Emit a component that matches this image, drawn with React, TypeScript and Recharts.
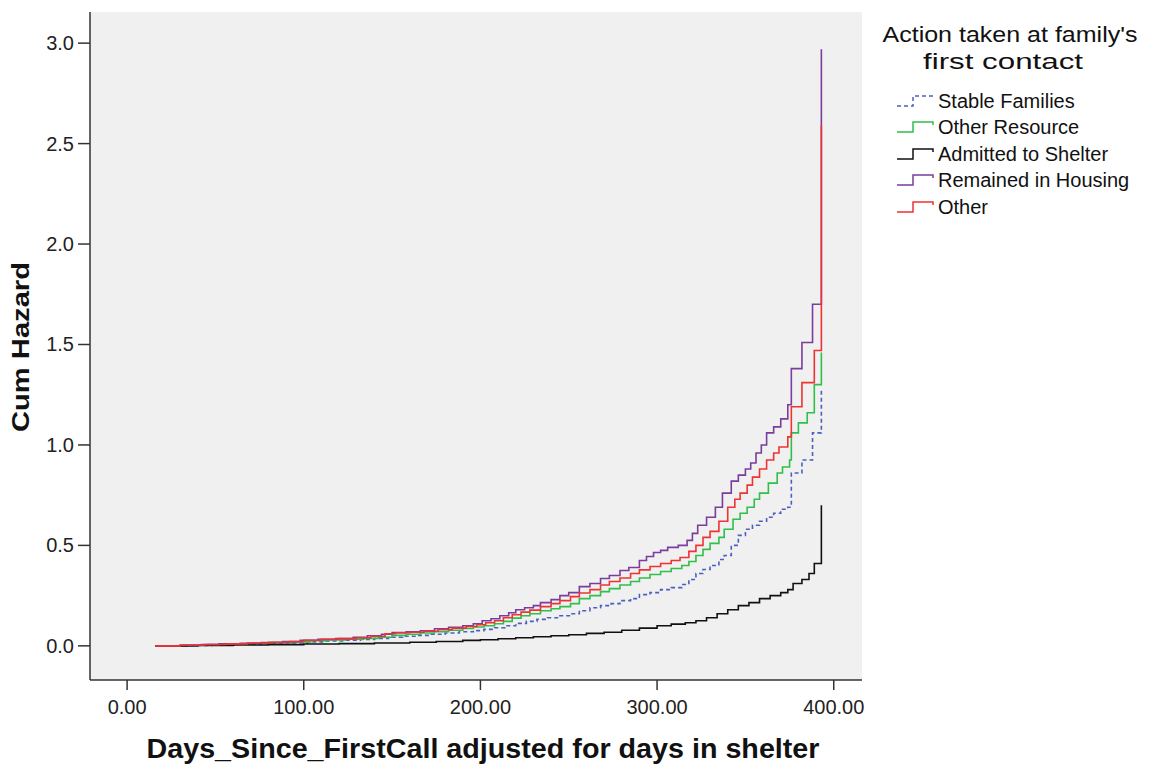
import React from "react";
import {
  LineChart,
  Line,
  XAxis,
  YAxis,
  CartesianGrid,
} from "recharts";

// [days, cumulative hazard]
const stableFamilies: [number, number][] = [
  [16, 0], [34, 0.002], [48, 0.005], [62, 0.008], [76, 0.011], [90, 0.015], [102, 0.02],
  [112, 0.024], [122, 0.028], [132, 0.032], [140, 0.037], [148, 0.043], [156, 0.048],
  [164, 0.052], [172, 0.058], [180, 0.064], [188, 0.07], [196, 0.076], [202, 0.082],
  [208, 0.09], [214, 0.1], [220, 0.112], [226, 0.122], [232, 0.132], [238, 0.14],
  [245, 0.15], [251, 0.16], [256, 0.175], [262, 0.19], [268, 0.2], [274, 0.21],
  [279, 0.225], [285, 0.235], [290, 0.255], [296, 0.265], [302, 0.28], [308, 0.29],
  [314, 0.305], [318, 0.33], [322, 0.36], [326, 0.38], [330, 0.4], [335, 0.43],
  [338, 0.45], [342, 0.5], [346, 0.55], [350, 0.58], [354, 0.6], [358, 0.62],
  [362, 0.64], [366, 0.66], [370, 0.68], [374, 0.69], [376, 0.86], [382, 0.925],
  [388, 1.06], [393, 1.27],
];

const otherResource: [number, number][] = [
  [16, 0], [32, 0.003], [46, 0.006], [58, 0.009], [70, 0.012], [82, 0.016], [94, 0.02],
  [104, 0.025], [114, 0.029], [124, 0.033], [134, 0.037], [142, 0.043], [150, 0.052],
  [158, 0.058], [166, 0.064], [174, 0.07], [182, 0.078], [190, 0.086], [196, 0.094],
  [202, 0.1], [208, 0.11], [213, 0.122], [218, 0.138], [223, 0.15], [228, 0.16],
  [234, 0.175], [240, 0.185], [245, 0.195], [251, 0.21], [256, 0.235], [262, 0.25],
  [268, 0.27], [273, 0.285], [279, 0.303], [285, 0.32], [290, 0.338], [296, 0.355],
  [302, 0.37], [308, 0.385], [314, 0.4], [318, 0.42], [322, 0.45], [326, 0.48],
  [330, 0.51], [335, 0.54], [338, 0.58], [343, 0.63], [347, 0.66], [351, 0.69],
  [355, 0.73], [358, 0.76], [363, 0.81], [368, 0.86], [371, 0.89], [375, 0.925],
  [376, 1.06], [380, 1.11], [385, 1.16], [389, 1.3], [393, 1.46],
];

const admittedToShelter: [number, number][] = [
  [16, 0], [40, 0.002], [60, 0.004], [80, 0.006], [100, 0.009], [120, 0.011], [140, 0.014],
  [160, 0.018], [175, 0.022], [190, 0.027], [200, 0.03], [210, 0.035], [220, 0.04],
  [230, 0.045], [240, 0.05], [250, 0.055], [260, 0.062], [270, 0.068], [280, 0.078],
  [290, 0.088], [300, 0.1], [308, 0.108], [316, 0.115], [322, 0.125], [328, 0.14],
  [334, 0.16], [340, 0.18], [346, 0.2], [352, 0.215], [358, 0.235], [364, 0.25],
  [370, 0.265], [374, 0.28], [377, 0.31], [382, 0.33], [386, 0.36], [389, 0.41],
  [393, 0.7],
];

const remainedInHousing: [number, number][] = [
  [16, 0], [30, 0.003], [42, 0.006], [52, 0.01], [64, 0.013], [76, 0.017], [88, 0.021],
  [98, 0.028], [108, 0.032], [118, 0.036], [128, 0.042], [136, 0.05], [144, 0.058],
  [150, 0.066], [158, 0.07], [166, 0.075], [174, 0.085], [182, 0.092], [190, 0.1],
  [196, 0.11], [201, 0.125], [206, 0.135], [211, 0.15], [216, 0.165], [220, 0.18],
  [225, 0.19], [230, 0.2], [234, 0.215], [240, 0.23], [245, 0.25], [250, 0.265],
  [256, 0.295], [262, 0.31], [268, 0.335], [273, 0.35], [279, 0.375], [284, 0.39],
  [290, 0.425], [294, 0.445], [298, 0.465], [302, 0.475], [306, 0.49], [312, 0.5],
  [317, 0.525], [320, 0.56], [323, 0.6], [328, 0.64], [333, 0.69], [337, 0.76],
  [342, 0.82], [346, 0.85], [350, 0.88], [353, 0.91], [356, 0.96], [359, 1.0],
  [362, 1.06], [366, 1.09], [370, 1.13], [374, 1.2], [376, 1.38], [382, 1.51],
  [388, 1.7], [393, 2.97],
];

const other: [number, number][] = [
  [16, 0], [30, 0.004], [44, 0.007], [56, 0.01], [68, 0.014], [80, 0.018], [92, 0.022],
  [100, 0.028], [110, 0.033], [120, 0.036], [130, 0.04], [138, 0.048], [146, 0.06],
  [152, 0.065], [160, 0.068], [168, 0.073], [176, 0.08], [184, 0.088], [192, 0.096],
  [198, 0.105], [203, 0.115], [208, 0.125], [213, 0.14], [218, 0.155], [223, 0.168],
  [228, 0.178], [234, 0.195], [240, 0.21], [245, 0.225], [251, 0.245], [256, 0.263],
  [262, 0.28], [268, 0.303], [273, 0.32], [279, 0.338], [285, 0.36], [290, 0.378],
  [296, 0.395], [302, 0.41], [308, 0.425], [313, 0.44], [318, 0.47], [322, 0.5],
  [326, 0.54], [330, 0.57], [335, 0.62], [340, 0.69], [344, 0.73], [347, 0.76],
  [351, 0.8], [354, 0.84], [358, 0.88], [362, 0.925], [366, 0.96], [369, 0.99],
  [374, 1.04], [376, 1.19], [382, 1.31], [389, 1.47], [393, 2.59],
];

const seriesNames = [
  "Stable Families",
  "Other Resource",
  "Admitted to Shelter",
  "Remained in Housing",
  "Other",
];
const seriesValues = [stableFamilies, otherResource, admittedToShelter, remainedInHousing, other];
const seriesColors = ["#4a5fc0", "#2fbf4a", "#111111", "#7a3d9c", "#ee3333"];
const seriesDash = ["4 3", undefined, undefined, undefined, undefined];

const xTicks = [0, 100, 200, 300, 400];
const xTickLabels = ["0.00", "100.00", "200.00", "300.00", "400.00"];
const yTicks = [0, 0.5, 1.0, 1.5, 2.0, 2.5, 3.0];
const yTickLabels = ["0.0", "0.5", "1.0", "1.5", "2.0", "2.5", "3.0"];

const legendTitle = ["Action taken at family's", "first contact"];
const xTitle = "Days_Since_FirstCall adjusted for days in shelter";
const yTitle = "Cum Hazard";

const FONT = "'Liberation Sans', Arial, sans-serif";

const XTick = (props: any) => {
  const { x, y, payload } = props;
  const i = xTicks.indexOf(payload.value);
  return (
    <text x={x} y={y + 22} textAnchor="middle" fontSize={20} fontFamily={FONT} fill="#222">
      {i >= 0 ? xTickLabels[i] : payload.value}
    </text>
  );
};

const YTick = (props: any) => {
  const { x, y, payload } = props;
  const i = yTicks.indexOf(payload.value);
  return (
    <text x={x - 2} y={y + 7} textAnchor="end" fontSize={20} fontFamily={FONT} fill="#222">
      {i >= 0 ? yTickLabels[i] : payload.value}
    </text>
  );
};

export default function App() {
  const rowY = [101, 127, 154, 180, 207];
  return (
    <div style={{ position: "absolute", left: 0, top: 0, width: 1154, height: 773, background: "#fff" }}>
      <LineChart width={1154} height={773} margin={{ top: 12, right: 292, bottom: 0, left: 0 }}>
        <CartesianGrid fill="#f0f0f0" stroke="#f0f0f0" strokeOpacity={0} />
        <XAxis
          xAxisId="main"
          type="number"
          dataKey="d"
          domain={[-21, 416]}
          ticks={xTicks}
          tick={<XTick />}
          tickSize={10}
          height={93}
          axisLine={{ stroke: "#333", strokeWidth: 1.5 }}
          tickLine={{ stroke: "#333", strokeWidth: 1.5 }}
          allowDataOverflow
        />
        <XAxis
          xAxisId="top"
          orientation="top"
          type="number"
          domain={[-21, 416]}
          height={0}
          tick={false}
          tickLine={false}
          axisLine={{ stroke: "#333", strokeWidth: 1.5 }}
        />
        <YAxis
          yAxisId="main"
          type="number"
          domain={[-0.17, 3.155]}
          ticks={yTicks}
          tick={<YTick />}
          tickSize={12}
          width={90}
          axisLine={{ stroke: "#333", strokeWidth: 1.5 }}
          tickLine={{ stroke: "#333", strokeWidth: 1.5 }}
          allowDataOverflow
        />
        <YAxis
          yAxisId="right"
          orientation="right"
          type="number"
          domain={[-0.17, 3.155]}
          width={0}
          tick={false}
          tickLine={false}
          axisLine={{ stroke: "#333", strokeWidth: 1.5 }}
        />
        {seriesValues.map((vals, i) => (
          <Line
            key={seriesNames[i]}
            xAxisId="main"
            yAxisId="main"
            name={seriesNames[i]}
            data={vals.map(([d, v]) => ({ d, v }))}
            dataKey="v"
            type="stepAfter"
            stroke={seriesColors[i]}
            strokeWidth={1.6}
            strokeDasharray={seriesDash[i]}
            dot={false}
            activeDot={false}
            isAnimationActive={false}
          />
        ))}
      </LineChart>
      <svg
        width={1154}
        height={773}
        style={{ position: "absolute", left: 0, top: 0, pointerEvents: "none" }}
      >
        <text
          x={483}
          y={758}
          textAnchor="middle"
          fontSize={27}
          fontWeight="bold"
          fontFamily={FONT}
          fill="#111"
          textLength={673}
          lengthAdjust="spacingAndGlyphs"
        >
          {xTitle}
        </text>
        <text
          transform="translate(29,347) rotate(-90)"
          x={0}
          y={0}
          textAnchor="middle"
          fontSize={23}
          fontWeight="bold"
          fontFamily={FONT}
          fill="#111"
          textLength={170}
          lengthAdjust="spacingAndGlyphs"
        >
          {yTitle}
        </text>
        <text x={1010} y={42} textAnchor="middle" fontSize={22} fontFamily={FONT} fill="#111"
          textLength={255} lengthAdjust="spacingAndGlyphs">
          {legendTitle[0]}
        </text>
        <text x={1003} y={69} textAnchor="middle" fontSize={22} fontFamily={FONT} fill="#111"
          textLength={160} lengthAdjust="spacingAndGlyphs">
          {legendTitle[1]}
        </text>
        {seriesNames.map((name, i) => {
          const cy = rowY[i];
          const ox = 897;
          return (
            <g key={name}>
              <path
                d={`M${ox},${cy + 5} H${ox + 16} V${cy - 5} H${ox + 36} V${cy - 2}`}
                fill="none"
                stroke={seriesColors[i]}
                strokeWidth={1.5}
                strokeDasharray={seriesDash[i]}
              />
              <text x={938} y={cy + 7} fontSize={20} fontFamily={FONT} fill="#111">
                {name}
              </text>
            </g>
          );
        })}
      </svg>
    </div>
  );
}
